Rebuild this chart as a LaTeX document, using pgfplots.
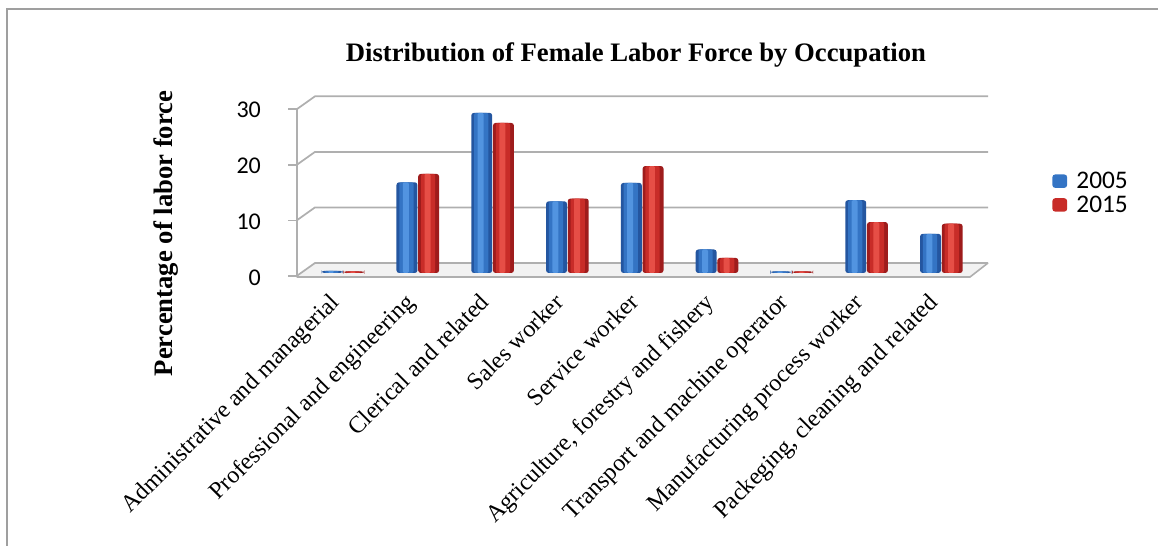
\documentclass[border=0pt]{standalone}
\usepackage{pgfplots}
\pgfplotsset{compat=1.18}
\usepackage{fontspec}
\setmainfont{Liberation Serif}
\newfontfamily\calibri{Carlito}
\definecolor{blueD}{RGB}{36,86,160}
\definecolor{blueM}{RGB}{52,116,196}
\definecolor{blueL}{RGB}{82,148,224}
\definecolor{redD}{RGB}{158,28,28}
\definecolor{redM}{RGB}{200,44,40}
\definecolor{redL}{RGB}{230,78,70}
\definecolor{gridc}{RGB}{175,175,175}
\pgfplotstableread{
x  a     b
0  0.4   0.3
1  16.2  17.7
2  28.6  26.8
3  12.8  13.3
4  16.1  19.1
5  4.2   2.7
6  0.3   0.3
7  13.0  9.1
8  7.0   8.8
}\datatable
\begin{document}
\begin{tikzpicture}[x=0.75pt,y=0.75pt]
\useasboundingbox (0,0) rectangle (1158,546);
% outer frame
\draw[gray!75, line width=1.2pt] (7,0) -- (7,537) -- (1158,537);
% floor
\fill[gray!10] (296.7,269) -- (970,269) -- (988,283) -- (315,283) -- cycle;
\draw[gridc, line width=1.2pt] (296.7,269) -- (970,269) -- (988,283);
% gridlines (back wall) and left wall
\foreach \f in {270,325.6,381.1,436.7}{
  \draw[gridc, line width=1.3pt] (296.7,\f) -- (315,\f+13) -- (988,\f+13);
  \draw[gridc, line width=1.3pt] (288,\f) -- (296.7,\f);
}
\draw[gridc, line width=1.3pt] (296.7,270) -- (296.7,436.7);
\begin{axis}[
  at={(229.2pt,204.75pt)}, anchor=south west,
  scale only axis, width=504.9pt, height=126pt,
  xmin=-0.5, xmax=8.5, ymin=0, ymax=30,
  clip=false,
  axis line style={draw=none},
  major tick length=0pt,
  tick style={draw=none},
  /pgf/number format/assume math mode=true,
  ytick={0,10,20,30},
  yticklabel style={anchor=east, font=\calibri\fontsize{18}{20}\selectfont, xshift=-30pt, yshift=-3.8pt},
  xtick={0,...,8},
  xticklabels={Administrative and managerial,Professional and engineering,Clerical and related,Sales worker,Service worker,{Agriculture, forestry and fishery},Transport and machine operator,Manufacturing process worker,{Packeging, cleaning and related}},
  xticklabel style={xshift=-10.65pt, yshift=-14pt, rotate=45, anchor=north east, inner sep=0pt, font=\fontsize{18}{20}\selectfont},
  title={\textbf{Distribution of Female Labor Force by Occupation}},
  title style={at={(axis description cs:0.4907,1.25)}, anchor=center, font=\fontsize{20}{22}\selectfont},
  ylabel={\textbf{Percentage of labor force}},
  ylabel style={at={(axis description cs:-0.2074,0.2351)}, anchor=center, rotate=0, font=\fontsize{20}{22}\selectfont},
  legend style={at={(axis description cs:1.109,0.476)}, anchor=west, draw=none, fill=none, font=\calibri\fontsize{19}{21}\selectfont, inner sep=0pt, row sep=0pt},
  legend cell align=left,
]
% 2005
\addplot[ybar, bar width=0.28, bar shift=-0.145, draw=none, fill=blueD, rounded corners=2pt,
  legend image code/.code={\fill[blueM] (0pt,-5pt) rectangle (11pt,5pt); \path (16pt,0pt);}]
  table[x=x, y=a] {\datatable};
\addlegendentry{2005}
\addplot[ybar, bar width=0.19, bar shift=-0.152, draw=none, fill=blueM, rounded corners=1.5pt, forget plot]
  table[x=x, y=a] {\datatable};
\addplot[ybar, bar width=0.08, bar shift=-0.16, draw=none, fill=blueL, rounded corners=1pt, forget plot]
  table[x=x, y=a] {\datatable};
% 2015
\addplot[ybar, bar width=0.28, bar shift=0.145, draw=none, fill=redD, rounded corners=2pt,
  legend image code/.code={\fill[redM] (0pt,-5pt) rectangle (11pt,5pt); \path (16pt,0pt);}]
  table[x=x, y=b] {\datatable};
\addlegendentry{2015}
\addplot[ybar, bar width=0.19, bar shift=0.138, draw=none, fill=redM, rounded corners=1.5pt, forget plot]
  table[x=x, y=b] {\datatable};
\addplot[ybar, bar width=0.08, bar shift=0.13, draw=none, fill=redL, rounded corners=1pt, forget plot]
  table[x=x, y=b] {\datatable};
\end{axis}
\end{tikzpicture}
\end{document}
